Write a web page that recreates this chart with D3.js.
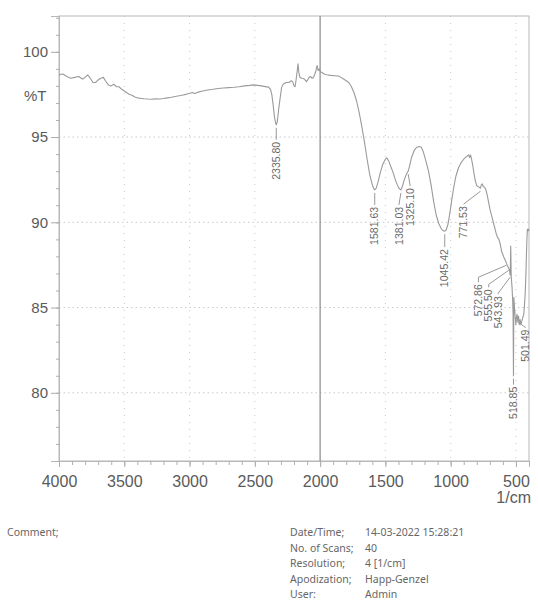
<!DOCTYPE html>
<html>
<head>
<meta charset="utf-8">
<script src="https://cdn.jsdelivr.net/npm/d3@7"></script>
<style>
  html, body { margin: 0; padding: 0; background: #fff; }
  svg { display: block; }
</style>
</head>
<body>
<svg id="chart" width="538" height="607"></svg>
<script>
// ---------------- DATA ----------------
const wavenumbers = [
  4000,3970,3940,3910,3880,3850,3820,3800,3780,3760,3740,3720,3700,3680,3660,3645,3620,3600,3580,3560,
  3540,3520,3500,3480,3460,3440,3420,3400,3380,3350,3320,3290,3260,3230,3200,3170,3140,3110,3080,3050,
  3020,2990,2980,2960,2940,2900,2860,2820,2780,2740,2700,2660,2620,2580,2540,2510,2480,2450,2420,2395,
  2380,2370,2360,2350,2340,2335,2328,2318,2306,2295,2283,2260,2240,2220,2210,2200,2192,2185,2175,2169,
  2163,2155,2140,2120,2105,2095,2085,2075,2060,2050,2040,2030,2023,2015,2005,2000,1990,1970,1950,1920,
  1890,1860,1840,1820,1800,1780,1760,1740,1720,1700,1680,1660,1640,1620,1600,1590,1582,1570,1555,1540,
  1520,1500,1489,1475,1455,1440,1420,1400,1390,1381,1370,1355,1340,1330,1325,1315,1300,1280,1260,1240,
  1225,1210,1190,1170,1150,1130,1110,1090,1070,1055,1045,1035,1020,1005,990,975,960,940,920,900,
  880,870,862,855,848,840,830,820,810,800,790,780,772,765,758,750,740,730,720,710,
  700,690,680,670,660,650,640,630,620,610,600,590,580,573,565,556,550,544,540,536,
  530,525,522,519,516,512,508,504,501,497,492,486,480,474,468,462,455,448,440,434,
  428,424,420,416,412,408,404,400
];
const transmittance = [
  98.65,98.7,98.55,98.45,98.5,98.55,98.4,98.5,98.65,98.45,98.2,98.2,98.35,98.45,98.5,98.3,98.05,98.0,98.1,97.95,
  97.95,97.8,97.7,97.6,97.5,97.45,97.35,97.3,97.28,97.25,97.23,97.22,97.24,97.23,97.26,97.3,97.33,97.38,97.42,97.47,
  97.52,97.58,97.62,97.55,97.62,97.7,97.76,97.8,97.85,97.88,97.9,97.92,97.95,98.0,98.03,98.06,98.03,98.0,97.96,97.93,
  97.8,97.5,96.9,96.2,95.8,95.72,95.9,96.6,97.3,97.9,98.1,98.2,98.2,98.3,98.25,98.0,97.95,98.3,98.9,99.3,
  98.8,98.5,98.45,98.4,98.25,98.35,98.5,98.55,98.45,98.5,98.7,98.95,99.2,98.9,99.0,98.85,98.8,98.7,98.65,98.62,
  98.6,98.58,98.5,98.4,98.3,98.2,97.95,97.6,97.1,96.4,95.6,94.7,93.7,92.8,92.2,92.0,91.9,92.0,92.4,92.9,
  93.4,93.7,93.78,93.6,93.2,92.9,92.4,92.05,91.95,91.9,92.1,92.5,92.8,92.95,93.0,93.3,93.8,94.2,94.4,94.45,
  94.4,94.15,93.6,93.0,92.2,91.2,90.4,89.9,89.6,89.5,89.48,89.55,89.9,90.6,91.4,92.1,92.7,93.2,93.5,93.7,
  93.85,93.9,93.95,93.8,93.95,93.7,93.3,92.8,92.4,92.15,92.1,92.05,92.0,92.2,92.25,92.1,92.05,91.9,91.6,91.2,
  90.8,90.5,90.2,89.9,89.6,89.3,89.1,89.0,88.7,88.3,88.1,87.9,87.75,87.6,87.45,87.3,87.2,86.9,88.6,86.8,
  86.2,85.4,84.6,81.0,85.6,85.1,84.7,84.3,84.0,84.4,84.6,84.2,84.5,84.0,84.3,84.0,84.2,84.4,84.6,85.2,
  86.0,86.9,88.0,89.0,89.6,89.5,89.6,89.5
];
const peakWavenumbers = [2335.80, 1581.63, 1381.03, 1325.10, 1045.42, 771.53, 572.86, 555.50, 543.93, 518.85, 501.49];
const peakLabels = ["2335.80","1581.63","1381.03","1325.10","1045.42","771.53","572.86","555.50","543.93","518.85","501.49"];
const xTickValues = [4000, 3500, 3000, 2500, 2000, 1500, 1000, 500];
const yTickValues = [80, 85, 90, 95, 100];
const yAxisTitle = "%T";
const xAxisTitle = "1/cm";
const infoLabels = ["Date/Time;", "No. of Scans;", "Resolution;", "Apodization;", "User:"];
const infoValues = ["14-03-2022 15:28:21", "40", "4 [1/cm]", "Happ-Genzel", "Admin"];
const commentLabel = "Comment;";

// ---------------- LAYOUT ----------------
const svg = d3.select("#chart");
const mLeft = 59, mRight = 529, mTop = 16, mBottom = 461;
const x = d3.scaleLinear().domain([4000, 400]).range([mLeft, mRight]);
const y = d3.scaleLinear().domain([76, 102.1]).range([mBottom, mTop]);

const gridColor = "#c8c8c8";
const frameColor = "#b8b8b8";
const textColor = "#5a5a5a";

const soft = svg.append("defs").append("filter").attr("id", "soft")
  .attr("x", "-5%").attr("y", "-5%").attr("width", "110%").attr("height", "110%");
soft.append("feGaussianBlur").attr("stdDeviation", 0.35);

const g = svg.append("g");

// grid lines (dotted)
g.append("g").selectAll("line").data(yTickValues.filter(v => v < 100)).join("line")
  .attr("x1", mLeft).attr("x2", mRight).attr("y1", d => y(d)).attr("y2", d => y(d))
  .attr("stroke", gridColor).attr("stroke-width", 1).attr("stroke-dasharray", "1.5,3");
g.append("g").selectAll("line").data(xTickValues.filter(v => v !== 4000 && v !== 2000)).join("line")
  .attr("x1", d => x(d)).attr("x2", d => x(d)).attr("y1", mTop).attr("y2", mBottom)
  .attr("stroke", gridColor).attr("stroke-width", 1).attr("stroke-dasharray", "1,6");

// frame
g.append("rect").attr("x", mLeft).attr("y", mTop).attr("width", mRight - mLeft).attr("height", mBottom - mTop)
  .attr("fill", "none").attr("stroke", frameColor).attr("stroke-width", 1);

// solid vertical line at 2000
g.append("line").attr("x1", x(2000)).attr("x2", x(2000)).attr("y1", mTop).attr("y2", mBottom)
  .attr("stroke", "#8a8a8a").attr("stroke-width", 1.2);

// Y axis
const yAxis = d3.axisLeft(y).tickValues(yTickValues).tickSize(8).tickPadding(3).tickFormat(d3.format("d"));
const yAxG = g.append("g").attr("transform", `translate(${mLeft},0)`).call(yAxis);
yAxG.select(".domain").attr("stroke", frameColor);
yAxG.selectAll(".tick line").attr("stroke", "#aaa");
yAxG.selectAll(".tick text").attr("fill", textColor).style("font-family", "Liberation Sans, Arial, sans-serif").style("font-size", "15px");
const yMinor = d3.axisLeft(y).tickValues(d3.range(76, 103, 1)).tickSize(4).tickFormat("");
const yMinG = g.append("g").attr("transform", `translate(${mLeft + 1},0)`).call(yMinor);
yMinG.select(".domain").remove();
yMinG.selectAll(".tick line").attr("stroke", "#b0b0b0");

// X axis
const xAxis = d3.axisBottom(x).tickValues(xTickValues).tickSize(6).tickPadding(9).tickFormat(d3.format("d"));
const xAxG = g.append("g").attr("transform", `translate(0,${mBottom})`).call(xAxis);
xAxG.select(".domain").attr("stroke", frameColor);
xAxG.selectAll(".tick line").attr("stroke", "#aaa");
xAxG.selectAll(".tick text").attr("fill", textColor).style("font-family", "Liberation Sans, Arial, sans-serif").style("font-size", "16px");
const xMinor = d3.axisBottom(x).tickValues(d3.range(400, 4001, 100)).tickSize(4).tickFormat("");
const xMinG = g.append("g").attr("transform", `translate(0,${mBottom})`).call(xMinor);
xMinG.select(".domain").remove();
xMinG.selectAll(".tick line").attr("stroke", "#b0b0b0");

// axis titles
g.append("text").attr("x", 24).attr("y", 101).text(yAxisTitle)
  .attr("fill", textColor).style("font-family", "Liberation Sans, Arial, sans-serif").style("font-size", "15px");
g.append("text").attr("x", 531).attr("y", 503).attr("text-anchor", "end").text(xAxisTitle)
  .attr("fill", textColor).style("font-family", "Liberation Sans, Arial, sans-serif").style("font-size", "16px");

// spectrum
const pts = wavenumbers.map((w, i) => [w, transmittance[i]]);
const line = d3.line().x(d => x(d[0])).y(d => y(d[1]));
g.append("path").datum(pts).attr("d", line).attr("fill", "none")
  .attr("stroke", "#9a9a9a").attr("stroke-width", 1.1).attr("stroke-linejoin", "round")
  .attr("filter", "url(#soft)");

// peak labels
function tAt(w) {
  let best = 0;
  for (let i = 1; i < wavenumbers.length; i++) if (Math.abs(wavenumbers[i] - w) < Math.abs(wavenumbers[best] - w)) best = i;
  return transmittance[best];
}
const labelLayout = [
  {dx: 0, dy: 17}, {dx: 0, dy: 17}, {dx: -2, dy: 17}, {dx: 2, dy: 17},
  {dx: 0, dy: 18}, {dx: -17, dy: 18},
  {dx: -28, dy: 21, elbow: 12}, {dx: -20, dy: 21, elbow: 10}, {dx: -12, dy: 21, elbow: 8},
  {dx: 0, dy: 11}, {dx: 10, dy: 5, side: true}
];
const lab = g.append("g");
peakWavenumbers.forEach((w, i) => {
  const px = x(w), py = y(tAt(w));
  const L = labelLayout[i];
  const tx = px + L.dx, ty = py + L.dy;
  let path;
  if (L.side) {
    path = [[px, py - 4], [tx, ty - 2]];
  } else if (L.elbow) {
    path = [[px, py + 2], [tx, ty - L.elbow + 5], [tx, ty - 2]];
  } else {
    path = [[px, py + 3], [tx, ty - 2]];
  }
  lab.append("path").attr("d", d3.line()(path)).attr("fill", "none").attr("stroke", "#999").attr("stroke-width", 1);
  lab.append("text").attr("transform", `translate(${tx},${ty}) rotate(-90)`)
    .attr("text-anchor", "end").attr("dy", "0.35em").text(peakLabels[i])
    .attr("fill", "#6a6a6a").style("font-family", "Liberation Sans, Arial, sans-serif").style("font-size", "10.5px");
});

// footer info
const infoFont = "Noto Sans, DejaVu Sans, sans-serif";
const infoColor = "#666";
svg.append("text").attr("x", 7).attr("y", 536).text(commentLabel)
  .attr("fill", infoColor).style("font-family", infoFont).style("font-size", "10.5px");
const rowY = [536, 551.5, 567, 582.5, 598];
infoLabels.forEach((t, i) => {
  svg.append("text").attr("x", 290).attr("y", rowY[i]).text(t)
    .attr("fill", infoColor).style("font-family", infoFont).style("font-size", "10.5px");
  svg.append("text").attr("x", 365).attr("y", rowY[i]).text(infoValues[i])
    .attr("fill", infoColor).style("font-family", infoFont).style("font-size", "10.5px");
});
</script>
</body>
</html>
